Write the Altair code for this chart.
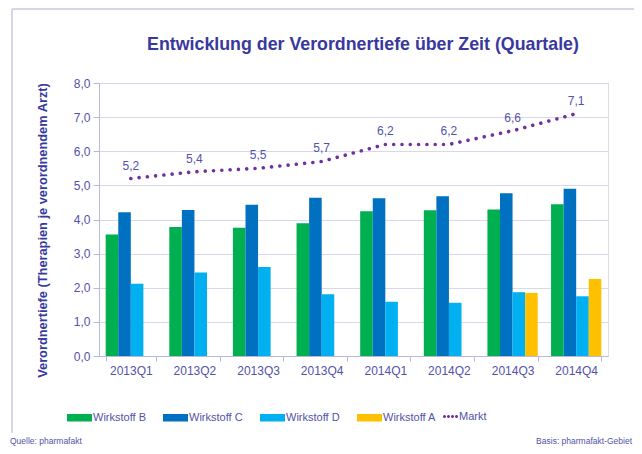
import altair as alt
import pandas as pd

quarters = ["2013Q1", "2013Q2", "2013Q3", "2013Q4", "2014Q1", "2014Q2", "2014Q3", "2014Q4"]
series_names = ["Wirkstoff B", "Wirkstoff C", "Wirkstoff D", "Wirkstoff A"]
series_colors = ["#00b050", "#0070c0", "#00b0f0", "#ffc000"]
wirkstoff_b = [3.56, 3.78, 3.76, 3.89, 4.24, 4.27, 4.29, 4.45]
wirkstoff_c = [4.21, 4.28, 4.43, 4.64, 4.62, 4.68, 4.77, 4.90]
wirkstoff_d = [2.12, 2.45, 2.61, 1.81, 1.59, 1.56, 1.87, 1.75]
wirkstoff_a = [None, None, None, None, None, None, 1.85, 2.26]
markt = [5.2, 5.4, 5.5, 5.7, 6.2, 6.2, 6.6, 7.1]
y_ticks = [0, 1, 2, 3, 4, 5, 6, 7, 8]
chart_title = "Entwicklung der Verordnertiefe über Zeit (Quartale)"

FONT = "Liberation Sans"
TITLE_COLOR = "#38389e"
TEXT_COLOR = "#5252aa"
LINE_COLOR = "#7030a0"
GRID = "#d8d8ec"
AXIS = "#b8b8d8"

rows = []
for name, vals in zip(series_names, [wirkstoff_b, wirkstoff_c, wirkstoff_d, wirkstoff_a]):
    for q, v in zip(quarters, vals):
        if v is not None:
            rows.append({"quarter": q, "series": name, "value": v})
bar_df = pd.DataFrame(rows)

markt_df = pd.DataFrame({
    "quarter": quarters,
    "value": markt,
    "series": ["Markt"] * len(quarters),
    "label": [f"{v:.1f}".replace(".", ",") for v in markt],
})

x_enc = alt.X(
    "quarter:N",
    sort=quarters,
    scale=alt.Scale(paddingInner=0.21, paddingOuter=0.105),
    axis=alt.Axis(
        title=None, labelAngle=0, tickBand="extent", labelFontSize=12,
        labelColor=TEXT_COLOR, labelFont=FONT, domainColor=AXIS, tickColor=AXIS,
        tickSize=5, labelPadding=4, grid=False,
    ),
)
y_enc = alt.Y(
    "value:Q",
    scale=alt.Scale(domain=[0, 8], nice=False),
    axis=alt.Axis(
        title="Verordnertiefe (Therapien je verordnendem Arzt)",
        values=y_ticks, labelExpr="replace(format(datum.value, '.1f'), '.', ',')",
        labelFontSize=12, labelColor=TEXT_COLOR, labelFont=FONT,
        titleFont=FONT, titleFontSize=12.8, titleFontWeight="bold", titleColor=TITLE_COLOR,
        titleX=-57, titleY=147, titleAngle=270, titleAlign="center", titleBaseline="middle",
        gridColor=GRID, domainColor=AXIS, tickColor=AXIS,
        tickSize=6, labelPadding=3,
    ),
)

bars = alt.Chart(bar_df).mark_bar().encode(
    x=x_enc,
    xOffset=alt.XOffset("series:N", sort=series_names,
                        scale=alt.Scale(domain=series_names, paddingInner=0, paddingOuter=0)),
    y=y_enc,
    color=alt.Color(
        "series:N", sort=series_names,
        scale=alt.Scale(domain=series_names, range=series_colors),
        legend=alt.Legend(
            title=None, orient="none", legendX=-32, legendY=322, direction="horizontal",
            columns=4, symbolType="M-1,-0.3H1V0.3H-1Z", symbolSize=625, symbolStrokeWidth=0,
            labelOffset=1, columnPadding=17, labelFont=FONT, labelFontSize=11,
            labelColor=TEXT_COLOR,
        ),
    ),
)

dot_path = "".join(
    f"M{cx - 0.2:.2f},0a0.2,0.2 0 1,0 0.4,0a0.2,0.2 0 1,0 -0.4,0Z"
    for cx in [-0.8, -0.27, 0.27, 0.8]
)

line = alt.Chart(markt_df).mark_line(
    strokeWidth=3.6, strokeDash=[0.01, 8.3], strokeCap="round"
).encode(
    x=x_enc,
    y=y_enc,
    stroke=alt.Stroke(
        "series:N",
        scale=alt.Scale(domain=["Markt"], range=[LINE_COLOR]),
        legend=alt.Legend(
            title=None, orient="none", legendX=344, legendY=326, symbolType=dot_path,
            symbolSize=225, labelOffset=1, labelFont=FONT, labelFontSize=11,
            labelColor=TEXT_COLOR, symbolFillColor=LINE_COLOR, symbolStrokeWidth=0,
        ),
    ),
)

labels = alt.Chart(markt_df).mark_text(
    dy=-13, fontSize=12, color=TEXT_COLOR, font=FONT
).encode(x=x_enc, y=y_enc, text="label:N")

one = pd.DataFrame({"k": [0]})
frame_left = alt.Chart(one).mark_rule(color="#c8c8e2", strokeWidth=1.5).encode(
    x=alt.value(-87), y=alt.value(-74), y2=alt.value(350)
)
frame_top = alt.Chart(one).mark_rule(color="#c8c8e2", strokeWidth=1.5).encode(
    x=alt.value(-87), x2=alt.value(545), y=alt.value(-74)
)
title_text = alt.Chart(one).mark_text(
    text=chart_title, align="center", baseline="middle", fontSize=17.8,
    fontWeight="bold", color=TITLE_COLOR, font=FONT
).encode(x=alt.value(264), y=alt.value(-38))
src_left = alt.Chart(one).mark_text(
    text="Quelle: pharmafakt", align="left", baseline="bottom", fontSize=8.5,
    color=TEXT_COLOR, font=FONT
).encode(x=alt.value(-89), y=alt.value(363))
src_right = alt.Chart(one).mark_text(
    text="Basis: pharmafakt-Gebiet", align="right", baseline="bottom", fontSize=8.5,
    color=TEXT_COLOR, font=FONT
).encode(x=alt.value(533), y=alt.value(363))

chart = alt.layer(
    frame_left, frame_top, title_text, bars, line, labels, src_left, src_right
).resolve_legend(color="independent", stroke="independent").properties(
    width=509,
    height=273,
    padding={"left": 91, "top": 75, "right": 26, "bottom": 90},
    autosize=alt.AutoSizeParams(type="none"),
).configure_view(stroke=None).configure(font=FONT)

chart.save("out.html", embed_options={"renderer": "svg", "actions": False})
